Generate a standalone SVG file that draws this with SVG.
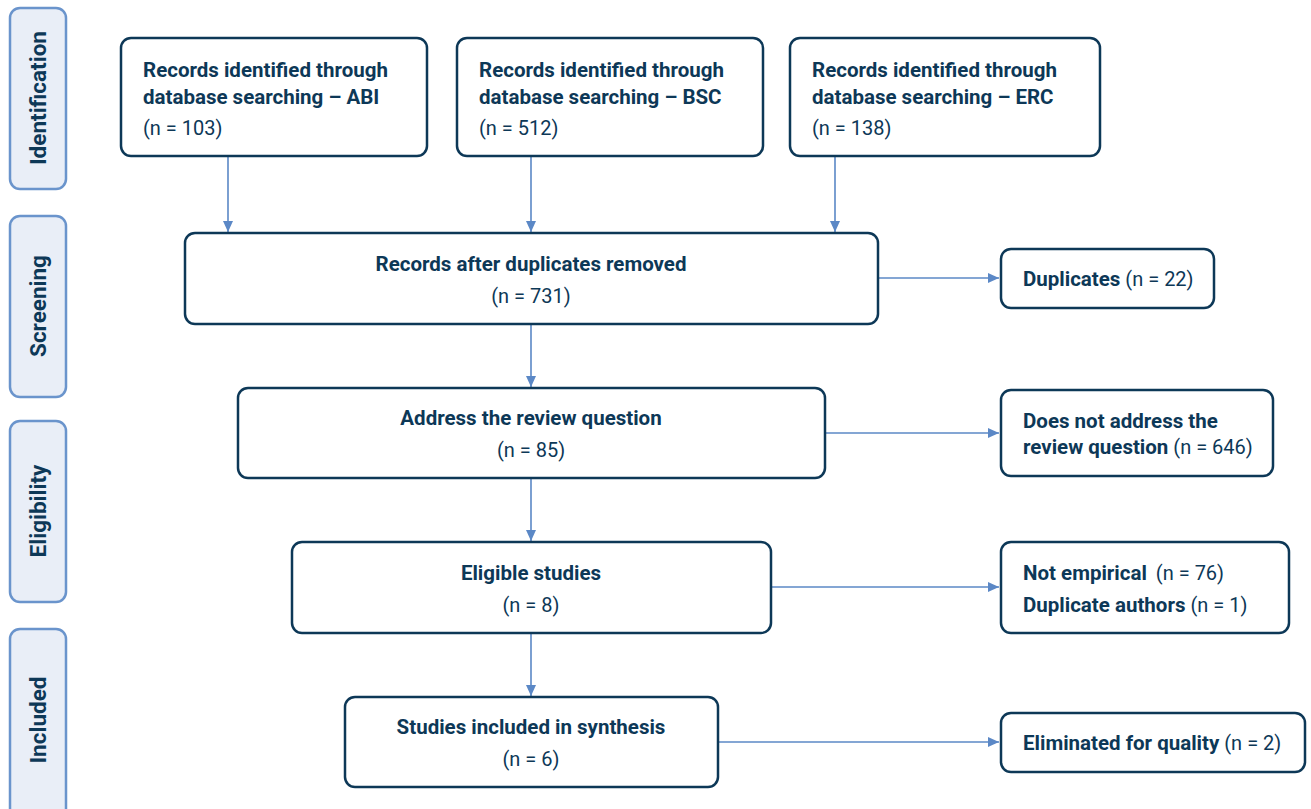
<svg xmlns="http://www.w3.org/2000/svg" width="1311" height="809" viewBox="0 0 1311 809">
<defs>
<style>
.stage{fill:#E9EEF7;stroke:#6A94CC;stroke-width:2.5}
.box{fill:#fff;stroke:#0D3857;stroke-width:2.5}
.st{font-family:Roboto,"Liberation Sans",sans-serif;font-weight:bold;font-size:22.5px;fill:#0D3857;text-anchor:middle}
.b{font-family:Roboto,"Liberation Sans",sans-serif;font-weight:bold;font-size:20.5px;fill:#0D3857}
.n{font-family:Roboto,"Liberation Sans",sans-serif;font-weight:normal;font-size:20px;fill:#0D3857}
.c{text-anchor:middle}
.con{stroke:#5B88C6;stroke-width:1.6;fill:none}
</style>
<marker id="ah" markerWidth="12" markerHeight="10" refX="11" refY="5" orient="auto" markerUnits="userSpaceOnUse">
<path d="M0,0 L11,5 L0,10 Z" fill="#5B88C6"/>
</marker>
</defs>
<rect width="1311" height="809" fill="#fff"/>

<g id="stage-identification"><rect class="stage" x="10" y="8" width="56" height="181" rx="10"/><text class="st" transform="translate(46,98) rotate(-90)">Identification</text></g>
<g id="stage-screening"><rect class="stage" x="10" y="216" width="56" height="181" rx="10"/><text class="st" transform="translate(46,306) rotate(-90)">Screening</text></g>
<g id="stage-eligibility"><rect class="stage" x="10" y="421" width="56" height="181" rx="10"/><text class="st" transform="translate(46,511) rotate(-90)">Eligibility</text></g>
<g id="stage-included"><rect class="stage" x="10" y="629" width="56" height="190" rx="10"/><text class="st" transform="translate(46,720) rotate(-90)">Included</text></g>

<g id="connectors">
<line class="con" x1="228" y1="156" x2="228" y2="232" marker-end="url(#ah)"/>
<line class="con" x1="531" y1="156" x2="531" y2="232" marker-end="url(#ah)"/>
<line class="con" x1="835" y1="156" x2="835" y2="232" marker-end="url(#ah)"/>
<line class="con" x1="878" y1="278" x2="999" y2="278" marker-end="url(#ah)"/>
<line class="con" x1="531" y1="324" x2="531" y2="387" marker-end="url(#ah)"/>
<line class="con" x1="825" y1="433" x2="999" y2="433" marker-end="url(#ah)"/>
<line class="con" x1="531" y1="478" x2="531" y2="541" marker-end="url(#ah)"/>
<line class="con" x1="771" y1="587" x2="999" y2="587" marker-end="url(#ah)"/>
<line class="con" x1="531" y1="633" x2="531" y2="696" marker-end="url(#ah)"/>
<line class="con" x1="718" y1="742" x2="999" y2="742" marker-end="url(#ah)"/>
</g>

<g id="abi"><rect class="box" x="121" y="38" width="306" height="118" rx="10"/>
<text class="b" x="143" y="77">Records identified through</text>
<text class="b" x="143" y="104">database searching – ABI</text>
<text class="n" x="143" y="135">(n = 103)</text></g>

<g id="bsc"><rect class="box" x="457" y="38" width="306" height="118" rx="10"/>
<text class="b" x="479" y="77">Records identified through</text>
<text class="b" x="479" y="104">database searching – BSC</text>
<text class="n" x="479" y="135">(n = 512)</text></g>

<g id="erc"><rect class="box" x="790" y="38" width="310" height="118" rx="10"/>
<text class="b" x="812" y="77">Records identified through</text>
<text class="b" x="812" y="104">database searching – ERC</text>
<text class="n" x="812" y="135">(n = 138)</text></g>

<g id="after-duplicates"><rect class="box" x="185" y="233" width="693" height="91" rx="10"/>
<text class="b c" x="531" y="271">Records after duplicates removed</text>
<text class="n c" x="531" y="303">(n = 731)</text></g>

<g id="duplicates"><rect class="box" x="1001" y="249" width="213" height="59" rx="10"/>
<text x="1023" y="286"><tspan class="b">Duplicates</tspan><tspan class="n"> (n = 22)</tspan></text></g>

<g id="address"><rect class="box" x="238" y="388" width="587" height="90" rx="10"/>
<text class="b c" x="531" y="425">Address the review question</text>
<text class="n c" x="531" y="457">(n = 85)</text></g>

<g id="not-address"><rect class="box" x="1001" y="390" width="272" height="86" rx="10"/>
<text class="b" x="1023" y="428">Does not address the</text>
<text x="1023" y="454"><tspan class="b">review question</tspan><tspan class="n"> (n = 646)</tspan></text></g>

<g id="eligible"><rect class="box" x="292" y="542" width="479" height="91" rx="10"/>
<text class="b c" x="531" y="580">Eligible studies</text>
<text class="n c" x="531" y="612">(n = 8)</text></g>

<g id="excluded-eligibility"><rect class="box" x="1001" y="542" width="288" height="91" rx="10"/>
<text x="1023" y="580"><tspan class="b">Not empirical</tspan><tspan class="n" dx="4"> (n = 76)</tspan></text>
<text x="1023" y="612"><tspan class="b">Duplicate authors</tspan><tspan class="n"> (n = 1)</tspan></text></g>

<g id="included"><rect class="box" x="345" y="697" width="373" height="90" rx="10"/>
<text class="b c" x="531" y="734">Studies included in synthesis</text>
<text class="n c" x="531" y="766">(n = 6)</text></g>

<g id="eliminated"><rect class="box" x="1001" y="713" width="304" height="59" rx="10"/>
<text x="1023" y="750"><tspan class="b">Eliminated for quality</tspan><tspan class="n"> (n = 2)</tspan></text></g>
</svg>
